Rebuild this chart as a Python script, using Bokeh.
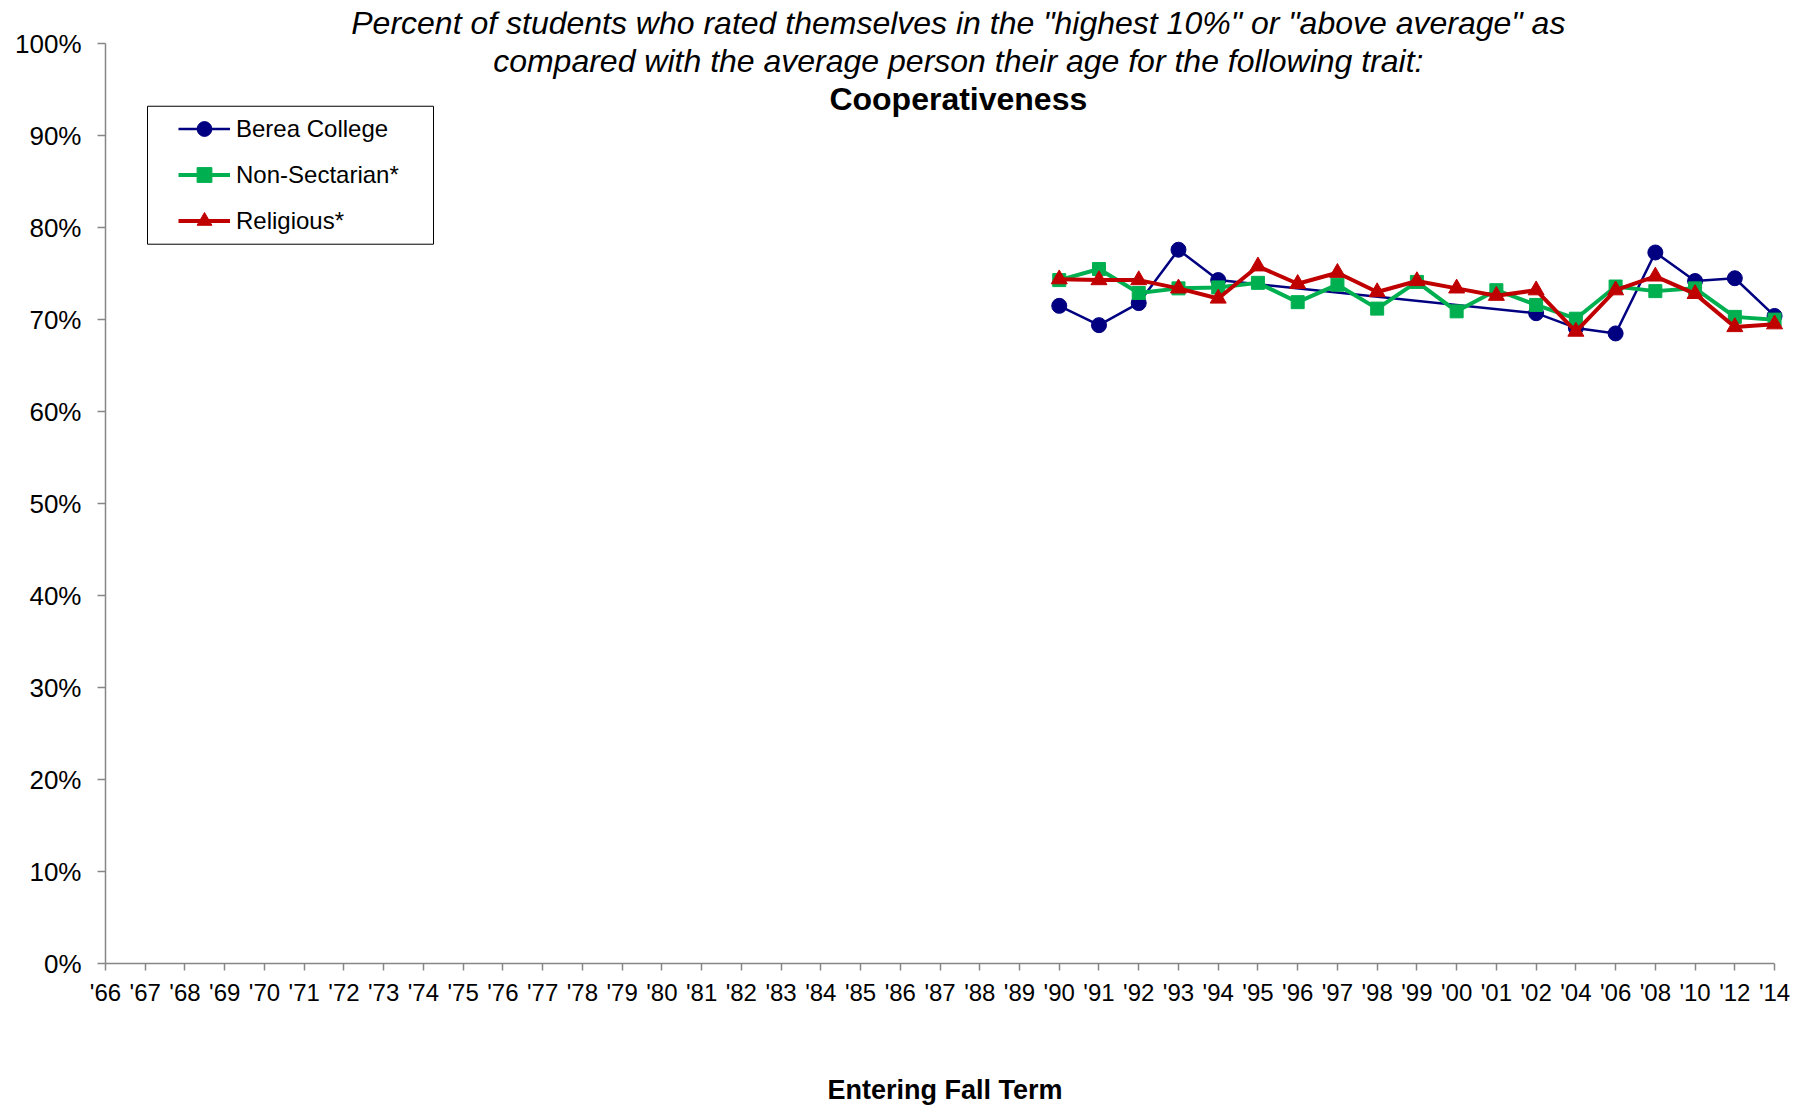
import math
from bokeh.plotting import figure
from bokeh.models import (Range1d, FixedTicker, PrintfTickFormatter, Label, Legend,
                          LegendItem, BoxAnnotation)
from bokeh.embed import file_html
from bokeh.resources import INLINE

# ---- data -----------------------------------------------------------------
years = ["'66", "'67", "'68", "'69", "'70", "'71", "'72", "'73", "'74", "'75",
         "'76", "'77", "'78", "'79", "'80", "'81", "'82", "'83", "'84", "'85",
         "'86", "'87", "'88", "'89", "'90", "'91", "'92", "'93", "'94", "'95",
         "'96", "'97", "'98", "'99", "'00", "'01", "'02", "'04", "'06", "'08",
         "'10", "'12", "'14"]

series_years = ["'90", "'91", "'92", "'93", "'94", "'95", "'96", "'97", "'98",
                "'99", "'00", "'01", "'02", "'04", "'06", "'08", "'10", "'12", "'14"]

nan = float("nan")
berea = [71.5, 69.4, 71.8, 77.6, 74.3, nan, nan, nan, nan,
         nan, nan, nan, 70.7, 69.1, 68.5, 77.3, 74.2, 74.5, 70.4]
non_sectarian = [74.3, 75.5, 72.9, 73.4, 73.5, 74.0, 71.9, 73.8, 71.2,
                 74.1, 70.9, 73.2, 71.6, 70.1, 73.6, 73.1, 73.4, 70.3, 70.0]
religious = [74.4, 74.3, 74.3, 73.4, 72.3, 75.8, 73.9, 75.1, 73.0,
             74.2, 73.4, 72.6, 73.2, 68.7, 73.2, 74.7, 72.8, 69.2, 69.5]

y_ticks = [0, 10, 20, 30, 40, 50, 60, 70, 80, 90, 100]

title_lines = ['Percent of students who rated themselves in the "highest 10%" or "above average" as',
               'compared with the average person their age for the following trait:']
title_trait = "Cooperativeness"
x_title = "Entering Fall Term"

FONT = "Liberation Sans"

# ---- figure ---------------------------------------------------------------
n_last = len(years) - 1
p = figure(width=1804, height=1107, output_backend="svg", toolbar_location=None,
           x_range=Range1d(0, n_last + 0.25), y_range=Range1d(0, 103.5),
           min_border_left=105, min_border_right=20, min_border_top=11,
           min_border_bottom=142)
p.title = None
p.outline_line_color = None
p.xgrid.visible = False
p.ygrid.visible = False
p.background_fill_color = "white"
p.border_fill_color = "white"

xi = {y: i for i, y in enumerate(years)}
xs = [xi[y] for y in series_years]

# x axis
xa = p.xaxis[0]
xa.ticker = FixedTicker(ticks=list(range(len(years))))
xa.bounds = (0, n_last)
xa.major_label_overrides = {i: y for i, y in enumerate(years)}
xa.axis_line_color = "#868686"
xa.axis_line_width = 1.5
xa.major_tick_line_color = "#868686"
xa.major_tick_line_width = 1.5
xa.major_tick_in = 0
xa.major_tick_out = 7
xa.minor_tick_line_color = None
xa.major_label_text_font = FONT
xa.major_label_text_font_size = "24px"
xa.major_label_text_color = "black"
xa.major_label_standoff = 8
xa.axis_label = x_title
xa.axis_label_text_font = FONT
xa.axis_label_text_font_style = "bold"
xa.axis_label_text_font_size = "27px"
xa.axis_label_text_color = "black"
xa.axis_label_standoff = 66

# y axis
ya = p.yaxis[0]
ya.ticker = FixedTicker(ticks=y_ticks)
ya.bounds = (0, 100)
ya.formatter = PrintfTickFormatter(format="%d%%")
ya.axis_line_color = "#868686"
ya.axis_line_width = 1.5
ya.major_tick_line_color = "#868686"
ya.major_tick_line_width = 1.5
ya.major_tick_in = 0
ya.major_tick_out = 8
ya.minor_tick_line_color = None
ya.major_label_text_font = FONT
ya.major_label_text_font_size = "26px"
ya.major_label_text_color = "black"
ya.major_label_standoff = 16

# ---- series ---------------------------------------------------------------
bx = [x for x, v in zip(xs, berea) if not math.isnan(v)]
bv = [v for v in berea if not math.isnan(v)]

navy, green, red = "#000080", "#00B050", "#C00000"

b_line = p.line(bx, bv, line_color=navy, line_width=2.5)
b_mark = p.scatter(bx, bv, marker="circle", size=15, fill_color=navy, line_color=navy)
g_line = p.line(xs, non_sectarian, line_color=green, line_width=4)
g_mark = p.scatter(xs, non_sectarian, marker="square", size=13, fill_color=green, line_color=green)
r_line = p.line(xs, religious, line_color=red, line_width=4)
r_mark = p.scatter(xs, religious, marker="triangle", size=16, fill_color=red, line_color=red)

# ---- legend ---------------------------------------------------------------
box = BoxAnnotation(left=1.057, right=8.254, top=93.2, bottom=78.2,
                    fill_color="white", fill_alpha=1.0,
                    line_color="black", line_width=1, line_alpha=1.0)
p.add_layout(box)

legend = Legend(items=[
    LegendItem(label="Berea College", renderers=[b_line, b_mark]),
    LegendItem(label="Non-Sectarian*", renderers=[g_line, g_mark]),
    LegendItem(label="Religious*", renderers=[r_line, r_mark]),
], location=(63, 714), margin=0, padding=10, spacing=9,
   glyph_width=52, glyph_height=37, label_height=37, label_standoff=6,
   label_text_font=FONT, label_text_font_size="24px", label_text_color="black",
   border_line_alpha=0, background_fill_alpha=0)
p.add_layout(legend)

# ---- titles ---------------------------------------------------------------
cx = 21.46
p.add_layout(Label(x=cx, y=102.2, text=title_lines[0], text_align="center",
                   text_baseline="middle", text_font=FONT, text_font_style="italic",
                   text_font_size="32px", text_color="black"))
p.add_layout(Label(x=cx, y=98.1, text=title_lines[1], text_align="center",
                   text_baseline="middle", text_font=FONT, text_font_style="italic",
                   text_font_size="32px", text_color="black"))
p.add_layout(Label(x=cx, y=94.0, text=title_trait, text_align="center",
                   text_baseline="middle", text_font=FONT, text_font_style="bold",
                   text_font_size="32px", text_color="black"))

open("out.html", "w").write(file_html(p, INLINE))
